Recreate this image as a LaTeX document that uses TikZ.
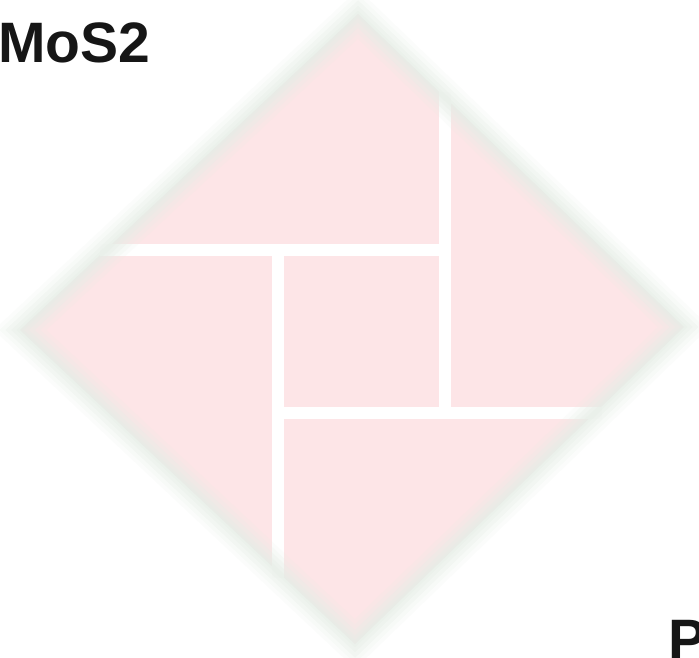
\documentclass[tikz,border=0pt]{standalone}
\usepackage{fontspec}
\setmainfont{Liberation Sans}
\definecolor{pinkfill}{RGB}{253,229,231}
\definecolor{fringe}{RGB}{230,238,230}
\definecolor{inkc}{RGB}{22,22,22}
\tikzset{
  label/.style={inner sep=0pt, font=\fontsize{57}{60}\selectfont\bfseries, text=inkc},
  gap/.style={draw=white, line width=12pt, line cap=butt},
  rim/.style={draw=fringe, line join=miter},
}
\begin{document}
\begin{tikzpicture}[x=1pt,y=-1pt]
\useasboundingbox (0,0) rectangle (699,658);
\clip (0,0) rectangle (699,658);
% diamond corners (fringe centre line)
\coordinate (T) at (358,14);
\coordinate (R) at (684,327);
\coordinate (B) at (355,644);
\coordinate (L) at (20,330);
% pinwheel junctions and ends
\coordinate (J1) at (278,250);
\coordinate (J2) at (445,250);
\coordinate (J3) at (445,413);
\coordinate (J4) at (278,413);
\coordinate (E1) at (100,250);
\coordinate (E2) at (445,92);
\coordinate (E3) at (602,413);
\coordinate (E4) at (278,578);
% diamond body
\fill[pinkfill] (T) -- (R) -- (B) -- (L) -- cycle;
% white gaps
\draw[gap] (E1) -- (J2);
\draw[gap] (E2) -- (J3);
\draw[gap] (J4) -- (E3);
\draw[gap] (J1) -- (E4);
% soft fringe
\draw[rim, line width=36pt, opacity=0.15] (T) -- (R) -- (B) -- (L) -- cycle;
\draw[rim, line width=28pt, opacity=0.2] (T) -- (R) -- (B) -- (L) -- cycle;
\draw[rim, line width=20pt, opacity=0.3] (T) -- (R) -- (B) -- (L) -- cycle;
\draw[rim, line width=12pt, opacity=0.35] (T) -- (R) -- (B) -- (L) -- cycle;
\draw[rim, line width=5pt, opacity=0.4] (T) -- (R) -- (B) -- (L) -- cycle;
% labels
\node[label, anchor=base west] (mos) at (-2,63) {MoS2};
\node[label, anchor=base west] (p) at (668,659) {P};
\end{tikzpicture}
\end{document}
